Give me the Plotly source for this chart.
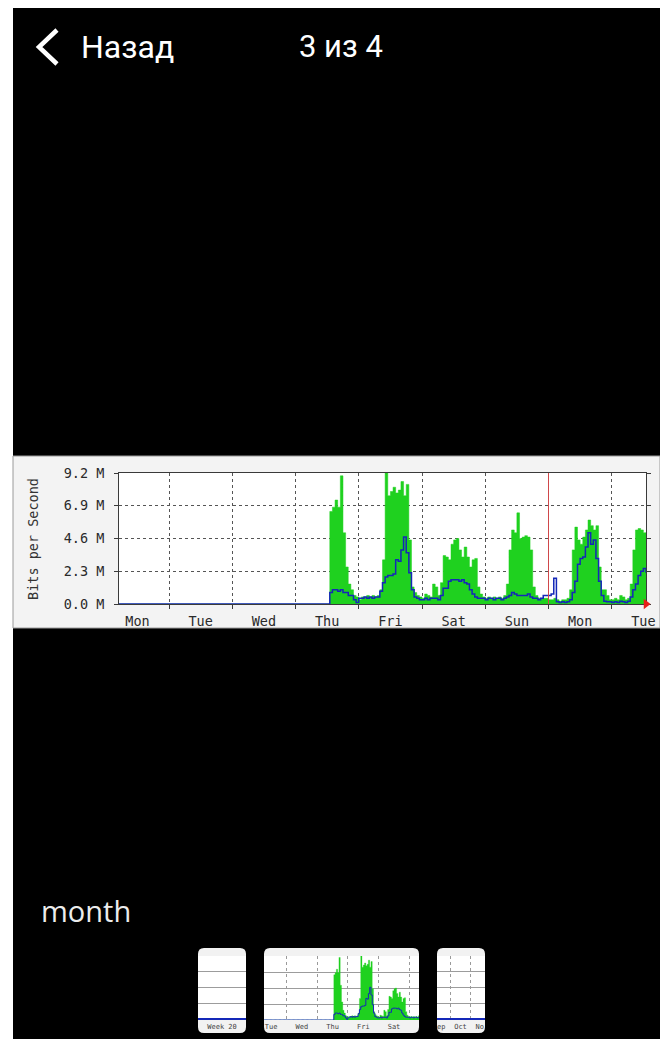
import plotly.graph_objects as go

# ---------------- data (Mbit/s, one value per hour, starting Mon 05:00) ----------------
start_hour = 5
in_mbps = [
    0, 0, 0, 0, 0, 0, 0, 0, 0, 0,
    0, 0, 0, 0, 0, 0, 0, 0, 0, 0,
    0, 0, 0, 0, 0, 0, 0, 0, 0, 0,
    0, 0, 0, 0, 0, 0, 0, 0, 0, 0,
    0, 0, 0, 0, 0, 0, 0, 0, 0, 0,
    0, 0, 0, 0, 0, 0, 0, 0, 0, 0,
    0, 0, 0, 0, 0, 0, 0, 0, 0, 0,
    0, 0, 0, 0, 0, 0, 0, 0, 0, 0,
    6.5, 6.8, 7.3, 6.8, 9.0, 5.0, 2.6, 1.4, 1.0, 0.6,
    0.5, 0.3, 0.5, 0.5, 0.6, 0.5, 0.6, 0.5, 0.6, 1.0,
    3.1, 9.2, 7.6, 7.9, 8.2, 7.8, 8.0, 8.6, 7.6, 8.4,
    4.5, 1.2, 0.8, 0.6, 0.5, 0.4, 0.7, 0.6, 0.5, 1.4,
    1.2, 0.6, 1.5, 3.4, 3.3, 3.1, 4.2, 4.5, 4.6, 3.8,
    3.3, 4.0, 3.3, 2.6, 3.1, 3.2, 1.2, 0.7, 0.5, 0.4,
    0.5, 0.4, 0.5, 0.4, 0.5, 0.4, 0.6, 1.4, 3.8, 5.2,
    5.0, 6.4, 4.6, 4.7, 4.8, 4.7, 3.8, 1.2, 0.6, 0.4,
    0.4, 0.4, 0.4, 0.3, 0.3, 0.4, 0.3, 0.2, 0.3, 0.3,
    0.4, 1.0, 3.8, 5.4, 4.5, 4.2, 4.7, 5.2, 5.9, 5.5,
    5.2, 5.5, 2.6, 1.0, 1.0, 0.6, 0.3, 0.3, 0.4, 0.3,
    0.6, 0.5, 0.3, 0.4, 1.4, 3.8, 5.2, 5.3, 5.2, 5.0,
    4.7,
]
out_mbps = [
    0, 0, 0, 0, 0, 0, 0, 0, 0, 0,
    0, 0, 0, 0, 0, 0, 0, 0, 0, 0,
    0, 0, 0, 0, 0, 0, 0, 0, 0, 0,
    0, 0, 0, 0, 0, 0, 0, 0, 0, 0,
    0, 0, 0, 0, 0, 0, 0, 0, 0, 0,
    0, 0, 0, 0, 0, 0, 0, 0, 0, 0,
    0, 0, 0, 0, 0, 0, 0, 0, 0, 0,
    0, 0, 0, 0, 0, 0, 0, 0, 0, 0,
    0.8, 1.0, 1.0, 0.9, 1.0, 0.8, 0.8, 0.6, 0.6, 0.3,
    0.1, 0.4, 0.4, 0.5, 0.4, 0.5, 0.4, 0.5, 0.5, 0.9,
    1.5, 1.9, 2.0, 2.0, 2.1, 3.1, 3.0, 3.8, 4.7, 3.6,
    2.2, 1.0, 0.5, 0.4, 0.3, 0.3, 0.4, 0.3, 0.4, 0.4,
    0.4, 0.3, 0.6, 1.1, 1.1, 1.6, 1.7, 1.7, 1.7, 1.6,
    1.7, 1.5, 1.4, 1.0, 0.7, 0.5, 0.4, 0.4, 0.4, 0.3,
    0.4, 0.4, 0.3, 0.4, 0.4, 0.3, 0.4, 0.5, 0.6, 0.8,
    0.7, 0.6, 0.6, 0.6, 0.6, 0.7, 0.5, 0.4, 0.4, 0.3,
    0.4, 0.6, 0.6, 0.6, 0.7, 1.8, 0.15, 0.1, 0.15, 0.1,
    0.15, 0.3, 0.8, 1.6, 2.8, 3.2, 3.3, 4.0, 5.0, 4.2,
    4.5, 3.2, 1.6, 0.6, 0.2, 0.15, 0.15, 0.1, 0.15, 0.1,
    0.2, 0.15, 0.1, 0.2, 0.5, 1.0, 1.4, 2.0, 2.3, 2.5,
    2.2,
]
day_label_hours = [12, 36, 60, 84, 108, 132, 156, 180, 204]
day_labels = ["Mon", "Tue", "Wed", "Thu", "Fri", "Sat", "Sun", "Mon", "Tue"]
y_tick_vals = [0.0, 2.3, 4.6, 6.9, 9.2]
y_tick_labels = ["0.0 M", "2.3 M", "4.6 M", "6.9 M", "9.2 M"]
week_start_hour = 168
month_thumb_label_pos = [0.5]
month_thumb_labels = ["Week 20"]
year_thumb_label_pos = [0.5, 1.5, 2.5]
year_thumb_labels = ["ep", "Oct", "No"]

hours = list(range(start_hour, start_hour + len(in_mbps)))

# ---------------- layout helpers (page pixels -> paper) ----------------
FW, FH = 660, 1039


def px(x):
    return x / FW


def py(y):
    return 1 - y / FH


def rounded(x0, y0, x1, y1, r):
    rx, ry = r / FW, r / FH
    X0, X1, Y0, Y1 = px(x0), px(x1), py(y1), py(y0)
    return (f"M {X0+rx},{Y0} L {X1-rx},{Y0} Q {X1},{Y0} {X1},{Y0+ry} "
            f"L {X1},{Y1-ry} Q {X1},{Y1} {X1-rx},{Y1} L {X0+rx},{Y1} "
            f"Q {X0},{Y1} {X0},{Y1-ry} L {X0},{Y0+ry} Q {X0},{Y0} {X0+rx},{Y0} Z")


GREEN = "#1fd11f"
BLUE = "#1428b8"
FRAME = "#3a3a3a"
MONO = "DejaVu Sans Mono"

fig = go.Figure()

# main chart
fig.add_trace(go.Scatter(x=hours, y=in_mbps, mode="lines", line=dict(shape="hv", width=0.5, color=GREEN),
                         fill="tozeroy", fillcolor=GREEN, xaxis="x", yaxis="y", hoverinfo="skip"))
fig.add_trace(go.Scatter(x=hours, y=out_mbps, mode="lines", line=dict(shape="hv", width=1.5, color=BLUE),
                         xaxis="x", yaxis="y", hoverinfo="skip"))
fig.add_trace(go.Scatter(x=[hours[-1]], y=[0], mode="markers", cliponaxis=False,
                         marker=dict(symbol="triangle-right", size=9, color="#e8201a"),
                         xaxis="x", yaxis="y", hoverinfo="skip"))
# thumbnail copy of the week graph
fig.add_trace(go.Scatter(x=hours, y=in_mbps, mode="lines", line=dict(shape="hv", width=0.3, color=GREEN),
                         fill="tozeroy", fillcolor=GREEN, xaxis="x2", yaxis="y2", hoverinfo="skip"))
fig.add_trace(go.Scatter(x=hours, y=out_mbps, mode="lines", line=dict(shape="hv", width=1, color=BLUE),
                         xaxis="x2", yaxis="y2", hoverinfo="skip"))
# empty traces so the month / year thumbnail subplots get drawn
fig.add_trace(go.Scatter(x=[], y=[], xaxis="x3", yaxis="y3", hoverinfo="skip"))
fig.add_trace(go.Scatter(x=[], y=[], xaxis="x4", yaxis="y4", hoverinfo="skip"))

shapes = [
    # white page edge (left and top)
    dict(type="rect", xref="paper", yref="paper", x0=0, x1=px(13), y0=0, y1=1,
         fillcolor="white", line_width=0, layer="below"),
    dict(type="rect", xref="paper", yref="paper", x0=0, x1=1, y0=py(8), y1=1,
         fillcolor="white", line_width=0, layer="below"),
    # main chart panel
    dict(type="rect", xref="paper", yref="paper", x0=px(13), x1=1, y0=py(628), y1=py(456),
         fillcolor="#f3f3f3", line=dict(color="#9a9a9a", width=1), layer="below"),
    dict(type="rect", xref="x domain", yref="y domain", x0=0, x1=1, y0=0, y1=1,
         fillcolor="white", line_width=0, layer="below"),
    # thumbnails
    dict(type="path", xref="paper", yref="paper", path=rounded(198, 948, 246, 1033, 6),
         fillcolor="#f2f2f2", line_width=0, layer="below"),
    dict(type="path", xref="paper", yref="paper", path=rounded(264, 948, 419, 1033, 6),
         fillcolor="#f2f2f2", line_width=0, layer="below"),
    dict(type="path", xref="paper", yref="paper", path=rounded(437, 948, 485, 1033, 6),
         fillcolor="#f2f2f2", line_width=0, layer="below"),
    dict(type="rect", xref="x2 domain", yref="y2 domain", x0=0, x1=1, y0=0, y1=1,
         fillcolor="white", line_width=0, layer="below"),
    dict(type="rect", xref="x3 domain", yref="y3 domain", x0=0, x1=1, y0=0, y1=1,
         fillcolor="white", line_width=0, layer="below"),
    dict(type="rect", xref="x4 domain", yref="y4 domain", x0=0, x1=1, y0=0, y1=1,
         fillcolor="white", line_width=0, layer="below"),
    # week start marker
    dict(type="line", xref="x", yref="y domain", x0=week_start_hour, x1=week_start_hour, y0=0, y1=1,
         line=dict(color="#d0484a", width=1), layer="above"),
    # back chevron
    dict(type="path", xref="paper", yref="paper",
         path=f"M {px(57)},{py(30)} L {px(39)},{py(47)} L {px(57)},{py(64)}",
         line=dict(color="white", width=4.5)),
]

annotations = [
    dict(text="Назад", x=px(79), y=py(47), xref="paper", yref="paper", xanchor="left", yanchor="middle",
         showarrow=False, font=dict(family="Roboto", size=32, color="white")),
    dict(text="3 из 4", x=px(341), y=py(47), xref="paper", yref="paper", xanchor="center", yanchor="middle",
         showarrow=False, font=dict(family="Roboto", size=31, color="white")),
    dict(text="month", x=px(39), y=py(910), xref="paper", yref="paper", xanchor="left", yanchor="middle",
         showarrow=False, font=dict(family="Open Sans", size=29, color="#ececec")),
    dict(text="Bits per Second", x=px(33), y=py(539), xref="paper", yref="paper", xanchor="center",
         yanchor="middle", textangle=-90, showarrow=False, font=dict(family=MONO, size=13.5, color="#333333")),
]

tick_font = dict(family=MONO, size=13.5, color="#2a2a2a")
thumb_font = dict(family=MONO, size=7, color="#444444")
thumb_y_domain = [py(1020), py(956)]

fig.update_layout(
    width=FW, height=FH, autosize=False,
    margin=dict(l=0, r=0, t=0, b=0, pad=0, autoexpand=False),
    paper_bgcolor="#000000", plot_bgcolor="rgba(0,0,0,0)", showlegend=False,
    shapes=shapes, annotations=annotations,
    xaxis=dict(domain=[px(119), px(646)], range=[hours[0], hours[-1]], tickmode="array",
               tickvals=day_label_hours, ticktext=day_labels, ticks="", showgrid=False, zeroline=False,
               showline=True, mirror=True, linecolor=FRAME, linewidth=1, layer="below traces",
               tickfont=tick_font, ticklabelstandoff=5, fixedrange=True, automargin=False,
               minor=dict(tickmode="linear", tick0=0, dtick=24, ticks="outside", ticklen=4, tickcolor=FRAME,
                          showgrid=True, gridcolor="#555555", griddash="dot", gridwidth=1)),
    yaxis=dict(domain=[py(604), py(473)], range=[0, 9.2], tickmode="array", tickvals=y_tick_vals,
               ticktext=y_tick_labels, ticks="outside", ticklen=4, tickcolor=FRAME, showgrid=True,
               gridcolor="#555555", griddash="dot", gridwidth=1, zeroline=False, showline=True,
               mirror="ticks", linecolor=FRAME, linewidth=1, layer="below traces", tickfont=tick_font,
               ticklabelstandoff=7, fixedrange=True, automargin=False),
    xaxis2=dict(domain=[px(264), px(419)], range=[30.5, 151.5], anchor="y2", tickmode="array",
                tickvals=day_label_hours, ticktext=day_labels, ticks="", showgrid=False, zeroline=False,
                showline=False, tickfont=thumb_font, ticklabelstandoff=1, fixedrange=True, automargin=False,
                minor=dict(tickmode="linear", tick0=0, dtick=24, showgrid=True, gridcolor="#9a9a9a",
                           griddash="dot", gridwidth=1)),
    yaxis2=dict(domain=thumb_y_domain, range=[0, 9.2], anchor="x2", tickmode="array",
                tickvals=[2.3, 4.6, 6.9, 9.2], showticklabels=False, showgrid=True, gridcolor="#9c9c9c",
                zeroline=False, showline=False, fixedrange=True, automargin=False),
    xaxis3=dict(domain=[px(198), px(246)], range=[0, 1], anchor="y3", tickmode="array",
                tickvals=month_thumb_label_pos, ticktext=month_thumb_labels, ticks="", showgrid=False,
                zeroline=False, showline=False, tickfont=thumb_font, ticklabelstandoff=1, fixedrange=True,
                automargin=False),
    yaxis3=dict(domain=thumb_y_domain, range=[-0.08, 4], anchor="x3", tickmode="array",
                tickvals=[1, 2, 3, 4], showticklabels=False, showgrid=True, gridcolor="#9c9c9c",
                zeroline=True, zerolinecolor=BLUE, zerolinewidth=1.5, showline=False, fixedrange=True,
                automargin=False),
    xaxis4=dict(domain=[px(437), px(485)], range=[0.28, 2.77], anchor="y4", tickmode="array",
                tickvals=year_thumb_label_pos, ticktext=year_thumb_labels, ticks="", showgrid=False,
                zeroline=False, showline=False, tickfont=thumb_font, ticklabelstandoff=1, fixedrange=True,
                automargin=False,
                minor=dict(tickmode="linear", tick0=0, dtick=1, showgrid=True, gridcolor="#9a9a9a",
                           griddash="dot", gridwidth=1)),
    yaxis4=dict(domain=thumb_y_domain, range=[-0.08, 4], anchor="x4", tickmode="array",
                tickvals=[1, 2, 3, 4], showticklabels=False, showgrid=True, gridcolor="#9c9c9c",
                zeroline=True, zerolinecolor=BLUE, zerolinewidth=1.5, showline=False, fixedrange=True,
                automargin=False),
)

fig.write_html("out.html", config={"displayModeBar": False, "staticPlot": True},
               post_script="document.body.style.margin='0';document.body.style.overflow='hidden';")
